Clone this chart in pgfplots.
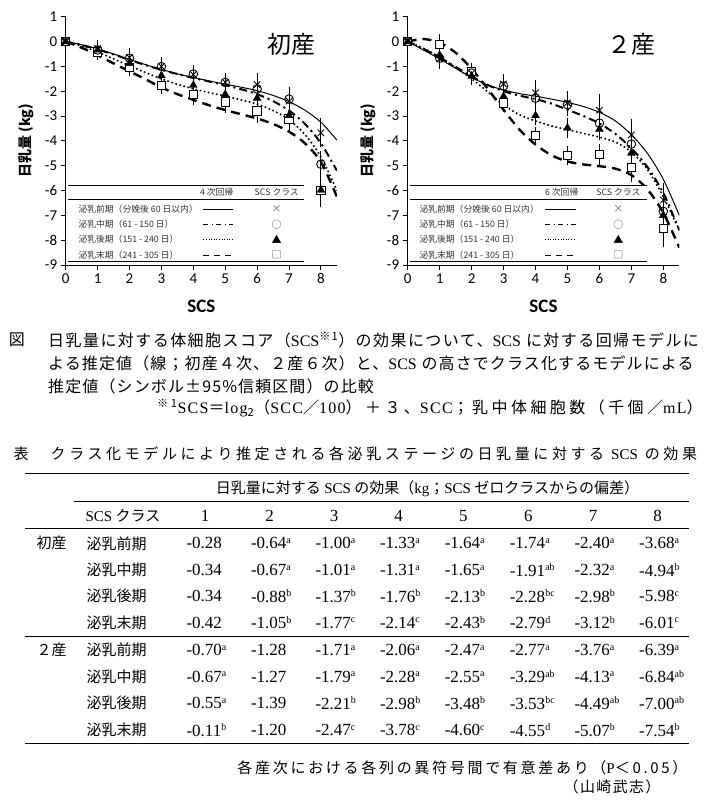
\documentclass[border=0pt]{standalone}
\usepackage{fontspec}
\usepackage{pgfplots}
\pgfplotsset{compat=1.18}
\setmainfont{Liberation Serif}
\newfontfamily\jp{Noto Sans CJK JP}
\newfontfamily\jpcapA{Noto Sans CJK JP}[LetterSpace=9]
\newfontfamily\jpcap{Noto Sans CJK JP}[LetterSpace=7]
\newfontfamily\jpcapD{Noto Sans CJK JP}[LetterSpace=21.5]
\newfontfamily\serA{Liberation Serif}[LetterSpace=8]
\newfontfamily\jpttl{Noto Sans CJK JP}[LetterSpace=24]
\newfontfamily\jpnote{Noto Sans CJK JP}[LetterSpace=18]
\newfontfamily\jpname{Noto Sans CJK JP}[LetterSpace=9]
\newfontfamily\calfont{Carlito}
\newcommand\tv[2]{#1\raisebox{0.32em}{\fontsize{10}{10}\selectfont #2}}
\pgfplotsset{myax/.style={scale only axis, width=271.2pt, height=248.3pt,
  xmin=0, xmax=8.5, ymin=-9, ymax=1, axis lines=left,
  axis line style={-, line width=0.9pt}, tick align=outside, major tick length=5pt,
  tick style={line width=0.9pt, black},
  xtick={0,1,2,3,4,5,6,7,8}, ytick={-9,-8,-7,-6,-5,-4,-3,-2,-1,0,1},
  xticklabels={0,1,2,3,4,5,6,7,8},
  yticklabels={-9,-8,-7,-6,-5,-4,-3,-2,-1,0,1},
  ticklabel style={font=\calfont\fontsize{15}{15}\selectfont},
  xlabel={SCS}, xlabel style={font=\calfont\bfseries\fontsize{19}{19}\selectfont, at={(axis description cs:0.5,-0.165)}, anchor=center},
  ylabel={日乳量 (kg)}, ylabel style={font=\jp\bfseries\fontsize{14}{14}\selectfont, at={(axis description cs:-0.147,0.5)}, anchor=center},
  cS/.style={black, line width=1pt},
  cDD/.style={black, line width=2pt, dash pattern=on 8pt off 4pt on 2pt off 4pt},
  cDT/.style={black, line width=1.6pt, dash pattern=on 1.6pt off 2.6pt},
  cDA/.style={black, line width=2.4pt, dash pattern=on 9pt off 6pt},
  eb/.style={only marks, black, error bars/y dir=both, error bars/y explicit,
     error bars/error bar style={line width=0.9pt, black, solid},
     error bars/error mark options={black, mark size=5pt, line width=0.9pt, solid}},
}}
\begin{document}
\begin{tikzpicture}[x=1pt,y=1pt]
\useasboundingbox (0,0) rectangle (705,806);
% ---------------- left plot
\begin{axis}[myax, at={(65.7pt,541pt)}, anchor=south west]
\addplot[cS, smooth] coordinates {(0,0)(0.5,-0.13)(1,-0.3)(1.5,-0.5)(2,-0.72)(2.5,-0.93)(3,-1.12)(3.5,-1.3)(4,-1.45)(4.5,-1.59)(5,-1.72)(5.5,-1.84)(6,-1.98)(6.5,-2.17)(7,-2.42)(7.5,-2.77)(8,-3.25)(8.5,-3.97)};
\addplot[cDD, smooth] coordinates {(0,0)(0.5,-0.14)(1,-0.32)(1.5,-0.52)(2,-0.74)(2.5,-0.95)(3,-1.14)(3.5,-1.31)(4,-1.47)(4.5,-1.61)(5,-1.76)(5.5,-1.92)(6,-2.12)(6.5,-2.4)(7,-2.78)(7.5,-3.32)(8,-4.1)(8.5,-5.2)};
\addplot[cDT, smooth] coordinates {(0,0)(0.5,-0.18)(1,-0.42)(1.5,-0.7)(2,-0.98)(2.5,-1.25)(3,-1.5)(3.5,-1.72)(4,-1.9)(4.5,-2.06)(5,-2.2)(5.5,-2.35)(6,-2.52)(6.5,-2.78)(7,-3.15)(7.5,-3.75)(8,-4.65)(8.5,-6.0)};
\addplot[cDA, smooth] coordinates {(0,0)(0.5,-0.25)(1,-0.55)(1.5,-0.88)(2,-1.2)(2.5,-1.52)(3,-1.85)(3.5,-2.12)(4,-2.35)(4.5,-2.57)(5,-2.76)(5.5,-2.93)(6,-3.1)(6.5,-3.32)(7,-3.63)(7.5,-4.1)(8,-4.85)(8.5,-6.25)};
\addplot[eb, mark=square*, mark options={fill=white, mark size=4.2pt, line width=0.9pt}] coordinates {(0,0)+-(0,0.08)(1,-0.42)+-(0,0.12)(2,-1.05)+-(0,0.15)(3,-1.77)+-(0,0.15)(4,-2.14)+-(0,0.22)(5,-2.43)+-(0,0.25)(6,-2.79)+-(0,0.3)(7,-3.12)+-(0,0.32)(8,-6.01)+-(0,0.47)};
\addplot[eb, mark=triangle*, mark options={fill=black, mark size=4.5pt}] coordinates {(0,0)+-(0,0.08)(1,-0.34)+-(0,0.12)(2,-0.88)+-(0,0.18)(3,-1.37)+-(0,0.18)(4,-1.76)+-(0,0.2)(5,-2.13)+-(0,0.25)(6,-2.28)+-(0,0.3)(7,-2.98)+-(0,0.3)(8,-5.98)+-(0,0.45)};
\addplot[eb, mark=o, mark options={fill=white, mark size=4.3pt, line width=0.9pt}] coordinates {(0,0)+-(0,0.08)(1,-0.34)+-(0,0.12)(2,-0.67)+-(0,0.18)(3,-1.01)+-(0,0.18)(4,-1.31)+-(0,0.15)(5,-1.65)+-(0,0.17)(6,-1.91)+-(0,0.28)(7,-2.32)+-(0,0.3)(8,-4.94)+-(0,0.33)};
\addplot[eb, mark=x, mark options={mark size=4.5pt, line width=0.9pt}] coordinates {(0,0)+-(0,0.08)(1,-0.28)+-(0,0.12)(2,-0.64)+-(0,0.18)(3,-1.00)+-(0,0.18)(4,-1.33)+-(0,0.15)(5,-1.64)+-(0,0.17)(6,-1.74)+-(0,0.28)(7,-2.40)+-(0,0.33)(8,-3.68)+-(0,0.38)};
\end{axis}
% ---------------- right plot
\begin{axis}[myax, at={(407.7pt,541pt)}, anchor=south west, width=271.6pt]
\addplot[cS, smooth] coordinates {(0,0)(0.5,-0.35)(1,-0.7)(1.5,-1.08)(2,-1.45)(2.5,-1.75)(3,-1.95)(3.5,-2.1)(4,-2.2)(4.5,-2.32)(5,-2.45)(5.5,-2.62)(6,-2.85)(6.5,-3.2)(7,-3.75)(7.5,-4.5)(8,-5.55)(8.5,-7.0)};
\addplot[cDD, smooth] coordinates {(0,0)(0.5,-0.3)(1,-0.65)(1.5,-1.02)(2,-1.4)(2.5,-1.75)(3,-2.0)(3.5,-2.18)(4,-2.32)(4.5,-2.5)(5,-2.75)(5.5,-3.0)(6,-3.3)(6.5,-3.72)(7,-4.3)(7.5,-5.05)(8,-6.1)(8.5,-7.6)};
\addplot[cDT, smooth] coordinates {(0,0)(0.5,-0.28)(1,-0.62)(1.5,-1.05)(2,-1.5)(2.5,-2.02)(3,-2.55)(3.5,-2.95)(4,-3.2)(4.5,-3.4)(5,-3.55)(5.5,-3.7)(6,-3.85)(6.5,-4.05)(7,-4.45)(7.5,-5.15)(8,-6.25)(8.5,-7.6)};
\addplot[cDA, smooth] coordinates {(0,0)(0.5,0.1)(1,-0.05)(1.5,-0.45)(2,-1.1)(2.5,-1.9)(3,-2.75)(3.5,-3.55)(4,-4.15)(4.5,-4.58)(5,-4.83)(5.5,-4.95)(6,-5.02)(6.5,-5.12)(7,-5.38)(7.5,-5.95)(8,-6.9)(8.5,-8.3)};
\addplot[eb, mark=square*, mark options={fill=white, mark size=4.2pt, line width=0.9pt}] coordinates {(0,0)+-(0,0.1)(1,-0.11)+-(0,0.2)(2,-1.20)+-(0,0.15)(3,-2.47)+-(0,0.15)(4,-3.78)+-(0,0.15)(5,-4.60)+-(0,0.18)(6,-4.55)+-(0,0.22)(7,-5.07)+-(0,0.4)(8,-7.54)+-(0,0.55)};
\addplot[eb, mark=triangle*, mark options={fill=black, mark size=4.5pt}] coordinates {(0,0)+-(0,0.1)(1,-0.55)+-(0,0.2)(2,-1.39)+-(0,0.15)(3,-2.21)+-(0,0.2)(4,-2.98)+-(0,0.2)(5,-3.48)+-(0,0.2)(6,-3.53)+-(0,0.25)(7,-4.49)+-(0,0.35)(8,-7.00)+-(0,0.5)};
\addplot[eb, mark=o, mark options={fill=white, mark size=4.3pt, line width=0.9pt}] coordinates {(0,0)+-(0,0.1)(1,-0.67)+-(0,0.2)(2,-1.27)+-(0,0.15)(3,-1.79)+-(0,0.2)(4,-2.28)+-(0,0.25)(5,-2.55)+-(0,0.25)(6,-3.29)+-(0,0.35)(7,-4.13)+-(0,0.4)(8,-6.84)+-(0,0.5)};
\addplot[eb, mark=x, mark options={mark size=4.5pt, line width=0.9pt}] coordinates {(0,0)+-(0,0.1)(1,-0.70)+-(0,0.2)(2,-1.28)+-(0,0.15)(3,-1.71)+-(0,0.22)(4,-2.06)+-(0,0.3)(5,-2.47)+-(0,0.28)(6,-2.77)+-(0,0.45)(7,-3.76)+-(0,0.45)(8,-6.39)+-(0,0.5)};
\end{axis}
% ---------------- titles in plots
\node[font=\jp\fontsize{24}{24}\selectfont] at (291,762) {初産};
\node[font=\jp\fontsize{24}{24}\selectfont] at (631.5,762) {２産};
% ---------------- legends
\foreach \xl/\xr/\xt/\xa/\xb/\xs/\xm/\hd in {68.3/304/75/203.3/233.3/216.7/276.7/4 次回帰, 410/646.7/416/545/575.7/561.7/618.3/6 次回帰}{
  \fill[white] (\xl,545) rectangle (\xr,620.5);
  \draw[line width=1pt] (\xl,620.5) -- (\xr,620.5);
  \draw[line width=1pt] (\xl,606.3) -- (\xr,606.3);
  \draw[line width=1pt] (\xl,544.5) -- (\xr,544.5);
  \begin{scope}[font=\jp\fontsize{8.8}{9}\selectfont, text=black!80]
  \node at (\xs,613.5) {\hd};
  \node at (\xm,613.5) {SCS クラス};
  \node[anchor=west] at (\xt,597) {泌乳前期（分娩後 60 日以内）};
  \node[anchor=west] at (\xt,581.7) {泌乳中期（61 - 150 日）};
  \node[anchor=west] at (\xt,567) {泌乳後期（151 - 240 日）};
  \node[anchor=west] at (\xt,551) {泌乳末期（241 - 305 日）};
  \end{scope}
  \draw[line width=0.9pt] (\xa,597) -- (\xb,597);
  \draw[line width=0.9pt, dash pattern=on 5pt off 3.5pt on 1pt off 3.5pt] (\xa,581.7) -- (\xb,581.7);
  \draw[line width=0.9pt, dash pattern=on 1pt off 1.6pt] (\xa,567) -- (\xb,567);
  \draw[line width=0.9pt, dash pattern=on 6pt off 5pt] (\xa,551) -- (\xb,551);
  \begin{scope}[font=\jp\fontsize{10}{10}\selectfont]
  \node[text=black!60] at (\xm,597) {×};
  \node[text=black!70] at (\xm,581.7) {○};
  \node at (\xm,567) {▲};
  \node[text=black!70] at (\xm,551) {□};
  \end{scope}
}
% ---------------- figure caption
\node[font=\jpcap\fontsize{16}{18}\selectfont] at (17,466) {図};
\node[anchor=west, inner sep=0pt, font=\jpcapA\fontsize{16}{18}\selectfont] at (48,466) {日乳量に対する体細胞スコア（{\rmfamily SCS}\textsuperscript{※1}）の効果について、{\rmfamily SCS} に対する回帰モデルに};
\node[anchor=west, inner sep=0pt, font=\jpcap\fontsize{16}{18}\selectfont] at (48,443) {よる推定値（線；初産４次、２産６次）と、{\rmfamily SCS} の高さでクラス化するモデルによる};
\node[anchor=west, inner sep=0pt, font=\jpcap\fontsize{16}{18}\selectfont] at (48,420) {推定値（シンボル±95\%信頼区間）の比較};
\node[anchor=west, inner sep=0pt, font=\jpcapD\fontsize{16}{18}\selectfont] at (157,398) {\textsuperscript{※1}{\serA SCS}＝{\serA log}\textsubscript{2}（{\serA SCC}／{\serA 100}）＋３、{\serA SCC}；乳中体細胞数（千個／{\serA mL}）};
% ---------------- table
\node[anchor=west, font=\jpttl\fontsize{15}{17}\selectfont] at (10,352) {表　クラス化モデルにより推定される各泌乳ステージの日乳量に対する {\rmfamily SCS} の効果};
\draw[line width=1pt] (25,332) -- (689,332);
\draw[line width=1pt] (74,304.3) -- (689,304.3);
\draw[line width=1pt] (25,277) -- (689,277);
\draw[line width=1pt] (25,169.3) -- (689,169.3);
\draw[line width=1pt] (25,62.7) -- (689,62.7);
\node[font=\jp\fontsize{15}{17}\selectfont] at (427.5,317) {日乳量に対する {\rmfamily SCS} の効果（{\rmfamily kg}；{\rmfamily SCS} ゼロクラスからの偏差）};
\node[anchor=west, font=\jp\fontsize{15}{17}\selectfont] at (82,290) {{\rmfamily SCS} クラス};
\foreach \c [count=\i] in {205,269.5,334,398.5,463.3,528.3,593,657.7}{
  \node[font=\fontsize{17}{17}\selectfont] at (\c,290) {\i};
}
\begin{scope}[font=\jp\fontsize{15}{17}\selectfont]
\node[anchor=west] at (33,262.7) {初産};
\node[anchor=west] at (33,156) {２産};
\foreach \y in {262.7,156}{\node[anchor=west] at (83,\y) {泌乳前期};}
\foreach \y in {236,129.3}{\node[anchor=west] at (83,\y) {泌乳中期};}
\foreach \y in {210,102.7}{\node[anchor=west] at (83,\y) {泌乳後期};}
\foreach \y in {183.3,76}{\node[anchor=west] at (83,\y) {泌乳末期};}
\end{scope}
\begin{scope}[font=\fontsize{17}{17}\selectfont]
\foreach \y/\a/\b/\c/\d/\e/\f/\g/\h in {
 262.7/\tv{-0.28}{}/\tv{-0.64}{a}/\tv{-1.00}{a}/\tv{-1.33}{a}/\tv{-1.64}{a}/\tv{-1.74}{a}/\tv{-2.40}{a}/\tv{-3.68}{a},
 236/\tv{-0.34}{}/\tv{-0.67}{a}/\tv{-1.01}{a}/\tv{-1.31}{a}/\tv{-1.65}{a}/\tv{-1.91}{ab}/\tv{-2.32}{a}/\tv{-4.94}{b},
 210/\tv{-0.34}{}/\tv{-0.88}{b}/\tv{-1.37}{b}/\tv{-1.76}{b}/\tv{-2.13}{b}/\tv{-2.28}{bc}/\tv{-2.98}{b}/\tv{-5.98}{c},
 183.3/\tv{-0.42}{}/\tv{-1.05}{b}/\tv{-1.77}{c}/\tv{-2.14}{c}/\tv{-2.43}{b}/\tv{-2.79}{d}/\tv{-3.12}{b}/\tv{-6.01}{c},
 156/\tv{-0.70}{a}/\tv{-1.28}{}/\tv{-1.71}{a}/\tv{-2.06}{a}/\tv{-2.47}{a}/\tv{-2.77}{a}/\tv{-3.76}{a}/\tv{-6.39}{a},
 129.3/\tv{-0.67}{a}/\tv{-1.27}{}/\tv{-1.79}{a}/\tv{-2.28}{a}/\tv{-2.55}{a}/\tv{-3.29}{ab}/\tv{-4.13}{a}/\tv{-6.84}{ab},
 102.7/\tv{-0.55}{a}/\tv{-1.39}{}/\tv{-2.21}{b}/\tv{-2.98}{b}/\tv{-3.48}{b}/\tv{-3.53}{bc}/\tv{-4.49}{ab}/\tv{-7.00}{ab},
 76/\tv{-0.11}{b}/\tv{-1.20}{}/\tv{-2.47}{c}/\tv{-3.78}{c}/\tv{-4.60}{c}/\tv{-4.55}{d}/\tv{-5.07}{b}/\tv{-7.54}{b}}{
  \node[anchor=west] at (183,\y) {\a};
  \node[anchor=west] at (247.5,\y) {\b};
  \node[anchor=west] at (312,\y) {\c};
  \node[anchor=west] at (376.5,\y) {\d};
  \node[anchor=west] at (441.3,\y) {\e};
  \node[anchor=west] at (506.3,\y) {\f};
  \node[anchor=west] at (571,\y) {\g};
  \node[anchor=west] at (635.7,\y) {\h};
}
\end{scope}
\node[anchor=east, font=\jpnote\fontsize{15}{17}\selectfont] at (691,37.7) {各産次における各列の異符号間で有意差あり（{\rmfamily P}＜0.05）};
\node[anchor=east, font=\jpname\fontsize{15}{17}\selectfont] at (664,19.3) {（山崎武志）};
\end{tikzpicture}
\end{document}
